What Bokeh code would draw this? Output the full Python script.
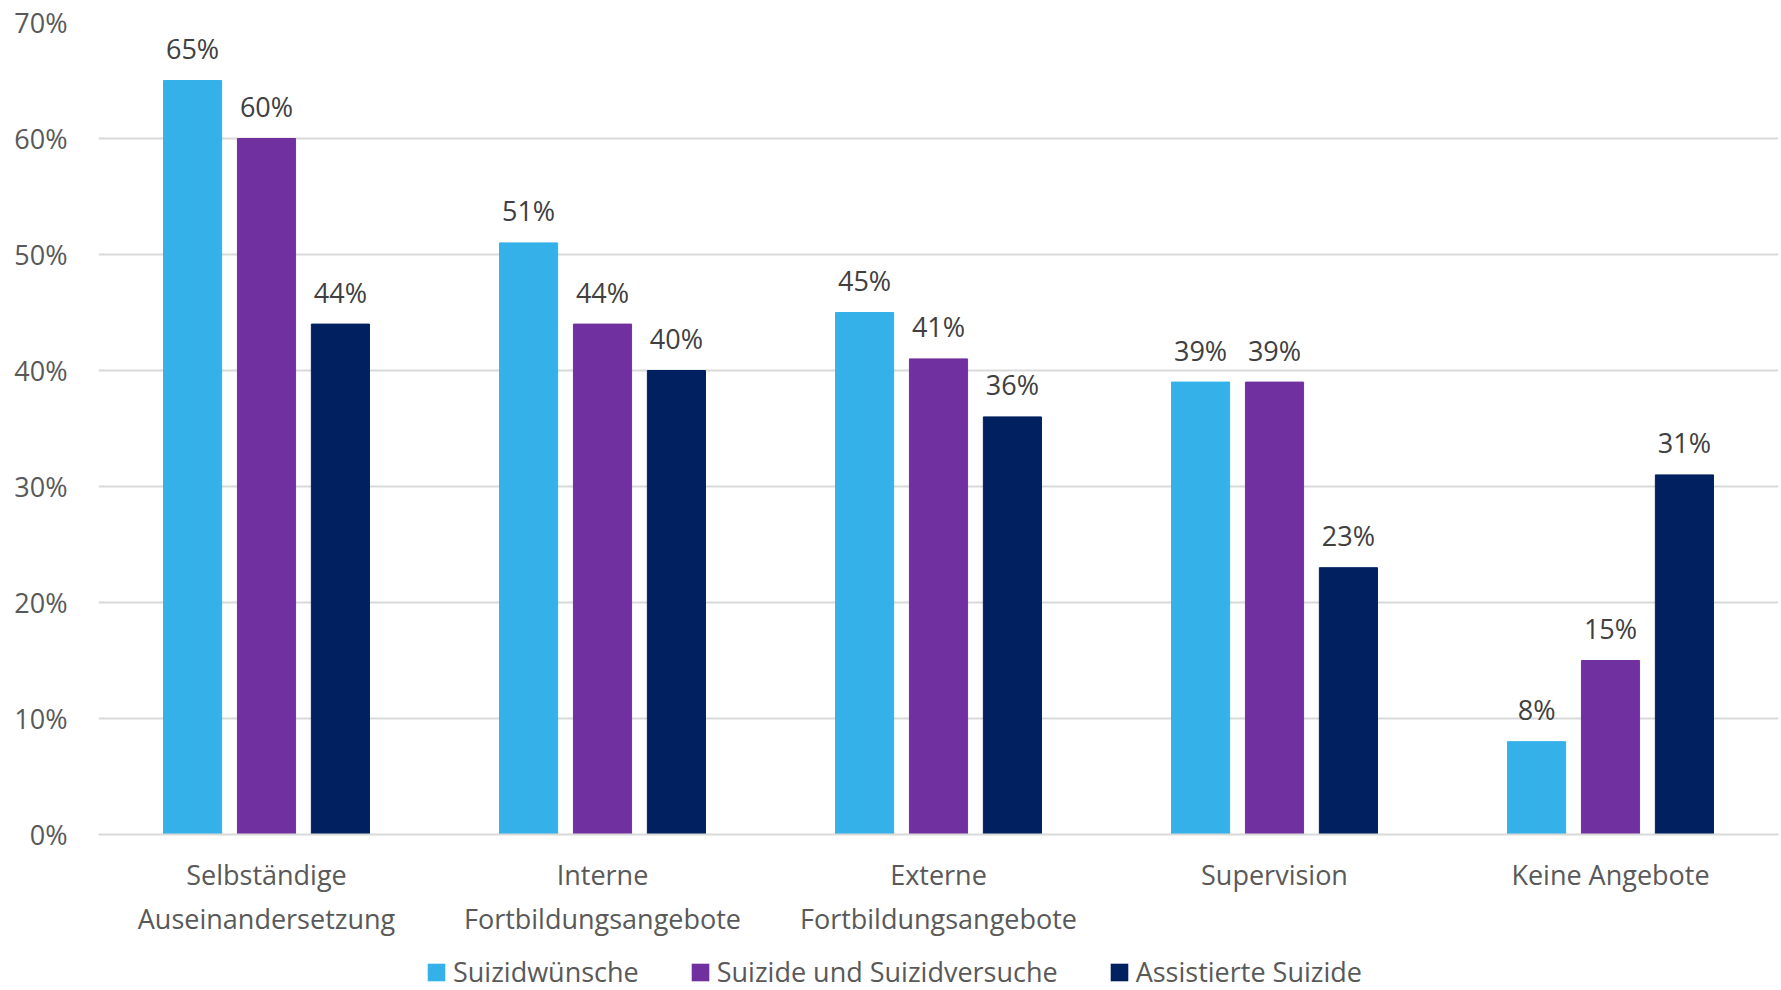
from bokeh.plotting import figure
from bokeh.layouts import column
from bokeh.models import ColumnDataSource, FactorRange, Legend, LegendItem, PrintfTickFormatter, FixedTicker
from bokeh.transform import dodge
from bokeh.core.properties import value
from bokeh.embed import file_html
from bokeh.resources import INLINE

categories = ["Selbständige\nAuseinandersetzung", "Interne\nFortbildungsangebote",
              "Externe\nFortbildungsangebote", "Supervision", "Keine Angebote"]
series_names = ["Suizidwünsche", "Suizide und Suizidversuche", "Assistierte Suizide"]
suizidwuensche = [65, 51, 45, 39, 8]
suizide_versuche = [60, 44, 41, 39, 15]
assistierte = [44, 40, 36, 23, 31]
y_ticks = [0, 10, 20, 30, 40, 50, 60, 70]

colors = ["#34B1E9", "#70309F", "#002060"]
offsets = [-0.22, 0.0, 0.22]
FONT = "Open Sans"

src = ColumnDataSource(dict(
    cat=categories,
    s1=suizidwuensche, s2=suizide_versuche, s3=assistierte,
    l1=[f"{v}%" for v in suizidwuensche],
    l2=[f"{v}%" for v in suizide_versuche],
    l3=[f"{v}%" for v in assistierte],
))

p = figure(x_range=FactorRange(*categories, range_padding=0), y_range=(0, 70),
           width=1781, height=941, output_backend="svg", toolbar_location=None,
           min_border_left=98, min_border_right=3, min_border_top=22, min_border_bottom=107)
p.outline_line_color = None
p.background_fill_color = "white"
p.border_fill_color = "white"

for i, (col, lab) in enumerate([("s1", "l1"), ("s2", "l2"), ("s3", "l3")]):
    p.vbar(x=dodge("cat", offsets[i], range=p.x_range), top=col, width=0.173,
           source=src, fill_color=colors[i], line_color=colors[i])
    p.text(x=dodge("cat", offsets[i], range=p.x_range), y=col, text=lab, source=src,
           text_align="center", text_baseline="alphabetic", y_offset=-32,
           text_font=value(FONT), text_font_size="27px", text_color="#404040")

p.yaxis.ticker = FixedTicker(ticks=y_ticks)
p.yaxis.formatter = PrintfTickFormatter(format="%d%%")
p.yaxis.axis_line_color = None
p.yaxis.major_tick_line_color = None
p.yaxis.minor_tick_line_color = None
p.yaxis.major_label_standoff = 25
p.yaxis.major_label_text_font = FONT
p.yaxis.major_label_text_font_size = "27px"
p.yaxis.major_label_text_color = "#595959"

p.xaxis.axis_line_color = "#D9D9D9"
p.xaxis.axis_line_width = 2
p.xaxis.major_tick_line_color = None
p.xaxis.minor_tick_line_color = None
p.xaxis.major_label_standoff = 15
p.xaxis.major_label_text_font = FONT
p.xaxis.major_label_text_font_size = "27px"
p.xaxis.major_label_text_color = "#595959"

p.xgrid.grid_line_color = None
p.ygrid.grid_line_color = "#D9D9D9"
p.ygrid.grid_line_width = 2

# legend strip below the chart
lg = figure(width=1781, height=49, output_backend="svg", toolbar_location=None,
            x_range=(0, 1), y_range=(0, 1), min_border=0)
lg.axis.visible = False
lg.grid.visible = False
lg.outline_line_color = None
lg.border_fill_color = "white"
lg.background_fill_color = "white"
leg_renderers = [lg.vbar(x=[0.5], top=[0], bottom=[0], width=0.0, fill_color=c, line_color=None)
                 for c in colors]
legend = Legend(items=[LegendItem(label=series_names[i], renderers=[leg_renderers[i]]) for i in range(3)],
                orientation="horizontal", location=(327, 0),
                glyph_width=22, glyph_height=22, label_standoff=6, spacing=50,
                padding=0, margin=0, border_line_color=None, background_fill_alpha=0,
                label_text_font=FONT, label_text_font_size="27px", label_text_color="#595959",
                label_text_line_height=0.8)
lg.add_layout(legend, "center")

layout = column(p, lg, spacing=0)
open("out.html", "w").write(file_html(layout, INLINE))
